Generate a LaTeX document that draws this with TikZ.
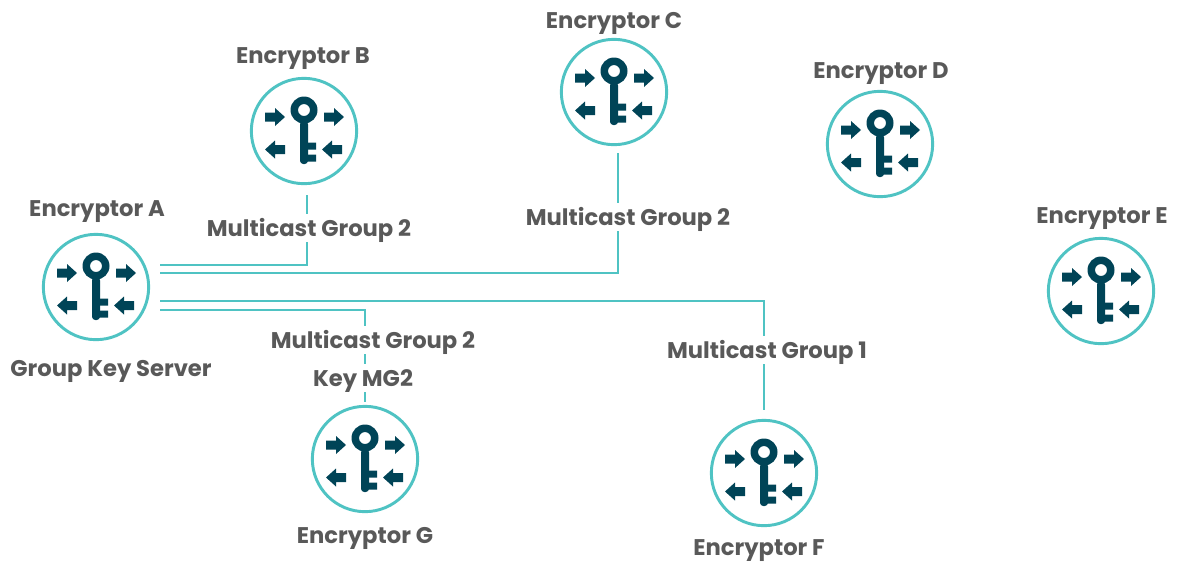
\documentclass[tikz,border=0pt]{standalone}
\usepackage{fontspec}
\setmainfont{Poppins}
\usepackage{tikz}

\definecolor{linkteal}{HTML}{4FC3C3}
\definecolor{keyblue}{HTML}{004457}
\definecolor{textgray}{HTML}{595959}

\tikzset{
	enc/.style={circle,draw=linkteal,line width=2.2pt,fill=white,minimum size=79pt,inner sep=0pt},
	lbl/.style={font=\fontsize{17}{19}\selectfont\bfseries,text=textgray,inner sep=1pt},
	linklbl/.style={lbl,fill=white,inner ysep=2pt,text height=15pt,text depth=2pt},
	link/.style={draw=linkteal,line width=2.2pt},
	keyicon/.pic={
		\fill[keyblue,even odd rule] (0,-21) circle (13.5) (0,-21) circle (6);
		\fill[keyblue,rounded corners=2.5pt] (-4,-10) rectangle (4,33);
		\fill[keyblue] (3,11.5) rectangle (12,18.5) (3,23.5) rectangle (12,30.5);
		\fill[keyblue] (-39,-18.5) -- (-29,-18.5) -- (-29,-23) -- (-19,-14) -- (-29,-5) -- (-29,-9.5) -- (-39,-9.5) --cycle;
		\fill[keyblue] (20,-18.5) -- (30,-18.5) -- (30,-23) -- (40,-14) -- (30,-5) -- (30,-9.5) -- (20,-9.5) --cycle;
		\fill[keyblue] (-19,14) -- (-29,14) -- (-29,9.5) -- (-39,18.5) -- (-29,27.5) -- (-29,23) -- (-19,23) --cycle;
		\fill[keyblue] (38,14) -- (28,14) -- (28,9.5) -- (18,18.5) -- (28,27.5) -- (28,23) -- (38,23) --cycle;
	}
}

\begin{document}
\begin{tikzpicture}[x=0.75pt,y=-0.75pt]

	\useasboundingbox (0,0) rectangle (1177,562);

	\node[enc] (encA) at (96,287) {};
	\node[enc] (encB) at (304,131) {};
	\node[enc] (encC) at (614,92) {};
	\node[enc] (encD) at (880,144) {};
	\node[enc] (encE) at (1101,291) {};
	\node[enc] (encF) at (764,473) {};
	\node[enc] (encG) at (365,459) {};

	\pic at (encA) {keyicon};
	\pic at (encB) {keyicon};
	\pic at (encC) {keyicon};
	\pic at (encD) {keyicon};
	\pic at (encE) {keyicon};
	\pic at (encF) {keyicon};
	\pic at (encG) {keyicon};

	\coordinate (a1) at (160,265);
	\coordinate (a2) at (160,273);
	\coordinate (a3) at (160,301);
	\coordinate (a4) at (160,310);
	\coordinate (b1) at (307,195);
	\coordinate (c1) at (618,153);
	\coordinate (f1) at (764,410);
	\coordinate (g1) at (365,402);

	\draw[link] (a1) -| (b1);
	\draw[link] (a2) -| (c1);
	\draw[link] (a3) -| (f1);
	\draw[link] (a4) -| (g1);

	\node[lbl] (labA) at (97,212) {Encryptor A};
	\node[lbl] (labB) at (303,59) {Encryptor B};
	\node[lbl] (labC) at (614,23) {Encryptor C};
	\node[lbl] (labD) at (881,74) {Encryptor D};
	\node[lbl] (labE) at (1102,219) {Encryptor E};
	\node[lbl] (labF) at (759,551) {Encryptor F};
	\node[lbl] (labG) at (365,538) {Encryptor G};
	\node[lbl] (labS) at (111,371) {Group Key Server};

	\node[linklbl] (mgB) at (309,228) {Multicast Group 2};
	\node[linklbl] (mgC) at (628,217) {Multicast Group 2};
	\node[linklbl] (mgF) at (767,350) {Multicast Group 1};
	\node[linklbl] (mgG) at (373,340) {Multicast Group 2};
	\node[linklbl] (keyG) at (363,378) {Key MG2};

\end{tikzpicture}
\end{document}
